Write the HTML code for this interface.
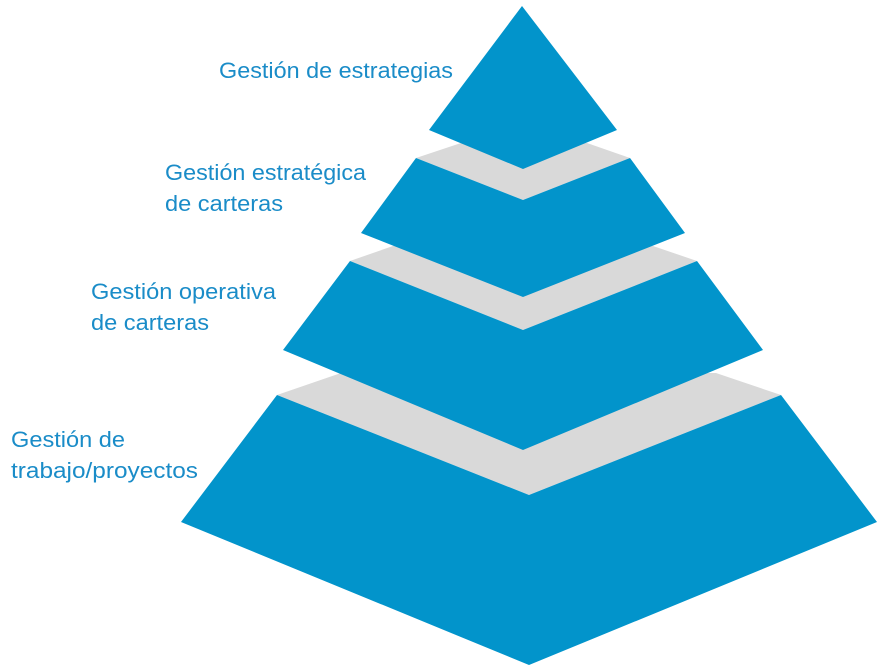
<!DOCTYPE html>
<html><head><meta charset="utf-8"><style>
html,body{margin:0;padding:0;background:#fff;width:883px;height:671px;overflow:hidden}
svg{display:block}
text{font-family:"Liberation Sans",sans-serif;font-size:22px;fill:#1a8cc8}
</style></head><body>
<svg width="883" height="671" viewBox="0 0 883 671" xmlns="http://www.w3.org/2000/svg">
<g fill="#d9d9d9">
<polygon points="416,158 461,143 587,143 630,158 523,200"/>
<polygon points="350,261 393,246 653,246 697,261 523,330"/>
<polygon points="277,395 341,373 716,373 781,395 529,495"/>
</g>
<g fill="#0294cb">
<polygon points="181,522 277,395 529,495 781,395 877,522 529,665"/>
<polygon points="283,350 350,261 523,330 697,261 763,350 523,450"/>
<polygon points="361,233 416,158 523,200 630,158 685,233 523,297"/>
<polygon points="522,6 617,130 523,169 429,130"/>
</g>
<text x="219" y="78" textLength="234" lengthAdjust="spacingAndGlyphs">Gestión de estrategias</text>
<text x="165" y="180" textLength="201" lengthAdjust="spacingAndGlyphs">Gestión estratégica</text>
<text x="165" y="211" textLength="118" lengthAdjust="spacingAndGlyphs">de carteras</text>
<text x="91" y="299" textLength="185" lengthAdjust="spacingAndGlyphs">Gestión operativa</text>
<text x="91" y="330" textLength="118" lengthAdjust="spacingAndGlyphs">de carteras</text>
<text x="11" y="447" textLength="114" lengthAdjust="spacingAndGlyphs">Gestión de</text>
<text x="11" y="478" textLength="187" lengthAdjust="spacingAndGlyphs">trabajo/proyectos</text>
</svg>
</body></html>
